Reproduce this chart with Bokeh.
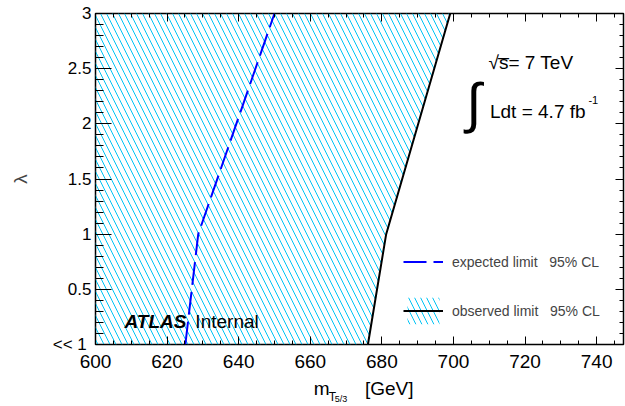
from bokeh.plotting import figure
from bokeh.models import (LinearAxis, FixedTicker, Label, Legend, LegendItem, Range1d)
from bokeh.embed import file_html
from bokeh.resources import INLINE

# ---- data ----
lam = [0.0, 1.0, 3.0]                  # coupling lambda (0 drawn as "<< 1")
expected_mass = [625.1, 628.7, 650.0]  # expected 95% CL limit [GeV]
observed_mass = [676.1, 681.2, 699.1]  # observed 95% CL limit [GeV]
x_ticks = [600, 620, 640, 660, 680, 700, 720, 740]
x_minor = list(range(600, 750, 5))
y_ticks = [0.0, 0.5, 1.0, 1.5, 2.0, 2.5, 3.0]
y_minor = [i / 10 for i in range(0, 31)]
y_tick_labels = {0: "<< 1\u00a0", 0.5: "0.5", 1: "1", 1.5: "1.5", 2: "2", 2.5: "2.5", 3: "3"}
x_start, x_end = 600, 747.5
y_start, y_end = 0.0, 3.0

# x-axis title pieces (text centre positions along the mass axis)
title_main = {663.2: "m", 682.05: "[GeV]"}
title_sub = {666.15: "T"}
title_subsub = {668.6: "5/3"}

FONT = "Liberation Sans"
HATCH = "#00c4f5"

p = figure(width=625, height=406, x_range=Range1d(x_start, x_end), y_range=Range1d(y_start, y_end),
           output_backend="svg", toolbar_location=None,
           min_border_left=95, min_border_right=2, min_border_top=13, min_border_bottom=59)
p.xgrid.visible = False
p.ygrid.visible = False
p.outline_line_color = "black"
p.outline_line_width = 1.5
p.background_fill_color = "white"
p.border_fill_color = "white"

# excluded region (hatched), left of observed limit
hx = [x_start] + observed_mass + [x_start]
hy = [lam[0]] + lam + [lam[-1]]
hatch_r = p.patch(hx, hy, fill_alpha=0, line_color=None, hatch_pattern="left_diagonal_line",
                  hatch_color=HATCH, hatch_scale=12, hatch_weight=1)
obs_r = p.line(observed_mass, lam, line_color="black", line_width=2)
exp_r = p.line(expected_mass, lam, line_color="#0000ff", line_width=2, line_dash="23 7")

# axes
def style_axis(ax, ticker, major_in, minor_in, size=None, standoff=4):
    ax.ticker = ticker
    ax.axis_line_color = None
    ax.major_tick_in = major_in
    ax.major_tick_out = 0
    ax.minor_tick_in = minor_in
    ax.minor_tick_out = 0
    ax.major_tick_line_color = "black" if major_in else None
    ax.minor_tick_line_color = "black" if minor_in else None
    if size:
        ax.major_label_text_font = FONT
        ax.major_label_text_font_size = size
        ax.major_label_text_color = "black"
        ax.major_label_standoff = standoff
    else:
        ax.major_label_text_font_size = "0px"
        ax.major_label_standoff = 0

style_axis(p.xaxis[0], FixedTicker(ticks=x_ticks, minor_ticks=x_minor), 8, 4, "19px", 10)
style_axis(p.yaxis[0], FixedTicker(ticks=y_ticks, minor_ticks=y_minor), 16, 8, "17px", 4)
p.yaxis[0].major_label_overrides = y_tick_labels
p.yaxis[0].axis_label = "λ"
p.yaxis[0].axis_label_text_font = FONT
p.yaxis[0].axis_label_text_font_size = "19px"
p.yaxis[0].axis_label_text_font_style = "normal"
p.yaxis[0].axis_label_standoff = 19

top = LinearAxis()
style_axis(top, FixedTicker(ticks=x_ticks, minor_ticks=x_minor), 8, 4)
p.add_layout(top, "above")
right = LinearAxis()
style_axis(right, FixedTicker(ticks=y_ticks, minor_ticks=y_minor), 8, 4)
p.add_layout(right, "right")

# x-axis title built from extra (tick-less) axes below the main one
def title_axis(labels, size, standoff):
    ax = LinearAxis()
    style_axis(ax, FixedTicker(ticks=list(labels.keys()), minor_ticks=[]), 0, 0, size, standoff)
    ax.major_label_overrides = labels
    p.add_layout(ax, "below")

title_axis(title_main, "19px", 7)
title_axis(title_sub, "12px", -12)
title_axis(title_subsub, "9px", -13)

# texts inside the frame
def lab(x, y, t, size="19px", style="normal", baseline="middle", align="left"):
    p.add_layout(Label(x=x, y=y, text=t, text_font=FONT, text_font_size=size,
                       text_font_style=style, text_baseline=baseline, text_align=align,
                       text_color="black"))

lab(608.1, 0.204, "ATLAS", style="bold italic")
lab(627.9, 0.204, "Internal")
lab(709.8, 2.554, "√s\u0305= 7 TeV")
lab(705.7, 2.185, "∫", size="55px", align="center")
lab(710.2, 2.108, "Ldt = 4.7 fb")
lab(737.7, 2.22, "-1", size="11px")

legend = Legend(items=[
    LegendItem(label="expected limit\u00a0\u00a0\u00a095% CL", renderers=[exp_r]),
    LegendItem(label="observed limit\u00a0\u00a0\u00a095% CL", renderers=[hatch_r, obs_r]),
], location=(308, 17), glyph_width=40, glyph_height=33, label_standoff=9, spacing=16,
    padding=0, margin=0, border_line_color=None, background_fill_alpha=0,
    label_text_font=FONT, label_text_font_size="14px", label_text_baseline="middle")
p.add_layout(legend)

open("out.html", "w").write(file_html(p, INLINE))
